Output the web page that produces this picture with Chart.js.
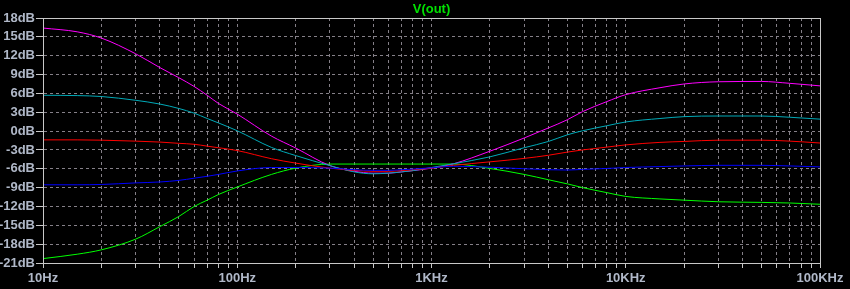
<!DOCTYPE html>
<html>
<head>
<meta charset="utf-8">
<title>V(out)</title>
<script src="https://cdn.jsdelivr.net/npm/chart.js@4.4.1/dist/chart.umd.min.js"></script>
<style>
  html, body { margin: 0; padding: 0; background: #000; }
  #plot { display: block; }
</style>
</head>
<body>
<canvas id="plot" width="850" height="289"></canvas>
<script>
// frequencies (Hz) the traces were read at
var freq = [10, 15, 20, 30, 40, 50, 60, 70, 80, 100, 150, 200, 300, 400, 500, 600, 700, 800,
            1000, 1300, 2000, 3000, 4000, 5000, 6000, 8000, 10000, 15000, 20000, 30000,
            50000, 70000, 100000];

// gain in dB, one array per trace
var magenta = [16.4, 15.8, 14.8, 12.3, 10.1, 8.5, 7.1, 5.7, 4.4, 2.7, -0.8, -2.7, -5.5, -6.4, -6.7, -6.7, -6.5, -6.3,
               -5.9, -5.2, -3.2, -1.1, 0.5, 1.8, 3.1, 4.7, 5.8, 6.9, 7.5, 7.85,
               7.9, 7.6, 7.2];
var cyan    = [5.7, 5.65, 5.5, 4.9, 4.3, 3.6, 2.85, 2.0, 1.3, 0.05, -2.6, -3.9, -5.5, -6.5, -6.8, -6.7, -6.5, -6.3,
               -5.8, -5.2, -4.1, -2.65, -1.65, -0.6, 0.05, 0.85, 1.45, 2.0, 2.3, 2.4,
               2.4, 2.2, 1.9];
var red     = [-1.4, -1.4, -1.45, -1.6, -1.75, -1.95, -2.1, -2.4, -2.65, -3.1, -4.4, -5.1, -5.9, -6.25, -6.4, -6.4, -6.3, -6.15,
               -5.9, -5.45, -4.9, -4.35, -3.85, -3.35, -3.0, -2.55, -2.2, -1.8, -1.65, -1.45,
               -1.45, -1.6, -1.9];
var blue    = [-8.55, -8.55, -8.5, -8.25, -8.1, -7.85, -7.5, -7.2, -6.9, -6.35, -5.8, -5.8, -5.9, -6.15, -6.25, -6.25, -6.15, -6.05,
               -5.85, -5.6, -5.75, -6.0, -6.15, -6.2, -6.1, -5.95, -5.8, -5.65, -5.55, -5.45,
               -5.45, -5.55, -5.7];
var green   = [-20.3, -19.6, -18.9, -17.2, -15.2, -13.6, -12.0, -11.0, -10.1, -8.9, -6.9, -5.9, -5.25, -5.25, -5.25, -5.25, -5.25, -5.25,
               -5.25, -5.25, -5.95, -6.9, -7.75, -8.4, -9.0, -9.8, -10.4, -10.8, -11.0, -11.25,
               -11.35, -11.45, -11.65];

var decadeLabels = ['10Hz', '100Hz', '1KHz', '10KHz', '100KHz'];
var decades = [10, 100, 1000, 10000, 100000];
var dbMin = -21, dbMax = 18, dbStep = 3;
var plotTitle = 'V(out)';

// tick positions 1..9 per decade on the log axis
var xTicks = [];
for (var d = 0; d < decades.length; d++) {
  for (var m = 1; m <= 9; m++) {
    if (d == decades.length - 1 && m > 1) break;
    xTicks.push(decades[d] * m);
  }
}

function pts(vals) {
  return freq.map(function(f, i) { return {x: f, y: vals[i]}; });
}

function trace(vals, colour) {
  return {
    data: pts(vals),
    borderColor: colour,
    borderWidth: 1,
    pointRadius: 0,
    fill: false,
    cubicInterpolationMode: 'monotone'
  };
}

var labelColour = '#b0b8c8';
var gridColour = '#858088';
var frameColour = '#c8c8c8';
var labelFont = {family: '"Liberation Sans", Arial, sans-serif', size: 13, weight: 'bold'};

var framePlugin = {
  id: 'frame',
  beforeDraw: function(chart) {
    var ctx = chart.ctx;
    ctx.save();
    ctx.fillStyle = '#000';
    ctx.fillRect(0, 0, chart.width, chart.height);
    ctx.restore();
  },
  afterDraw: function(chart) {
    var a = chart.chartArea, ctx = chart.ctx;
    ctx.save();
    ctx.strokeStyle = frameColour;
    ctx.lineWidth = 1;
    ctx.strokeRect(Math.round(a.left) + 0.5, Math.round(a.top) + 0.5,
                   Math.round(a.right - a.left), Math.round(a.bottom - a.top));
    ctx.fillStyle = '#00e000';
    ctx.font = 'bold 13px "Liberation Sans", Arial, sans-serif';
    ctx.textAlign = 'center';
    ctx.textBaseline = 'middle';
    ctx.fillText(plotTitle, (a.left + a.right) / 2, 9);
    ctx.restore();
  }
};

var ctx = document.getElementById('plot');
var chart = new Chart(ctx, {
  type: 'line',
  data: {
    datasets: [
      trace(blue, '#0000ff'),
      trace(red, '#ff0000'),
      trace(cyan, '#00aab8'),
      trace(magenta, '#ff00ff'),
      trace(green, '#00ff00')
    ]
  },
  options: {
    responsive: false,
    animation: false,
    devicePixelRatio: 1,
    layout: {padding: {top: 18, right: 30, left: 0, bottom: 0}},
    plugins: {
      legend: {display: false},
      tooltip: {enabled: false},
      title: {display: false}
    },
    scales: {
      x: {
        type: 'logarithmic',
        min: 10,
        max: 100000,
        afterBuildTicks: function(scale) {
          scale.ticks = xTicks.map(function(v) { return {value: v}; });
        },
        afterFit: function(scale) { scale.height = 26; },
        ticks: {
          autoSkip: false,
          maxRotation: 0,
          color: labelColour,
          font: labelFont,
          padding: 3,
          callback: function(value) {
            var i = decades.indexOf(value);
            return i >= 0 ? decadeLabels[i] : '';
          }
        },
        grid: {
          color: gridColour,
          lineWidth: 1,
          tickLength: 5,
          tickColor: frameColour,
          tickBorderDash: []
        },
        border: {display: true, color: frameColour, dash: [3, 3]}
      },
      y: {
        min: dbMin,
        max: dbMax,
        afterFit: function(scale) { scale.width = 43; },
        ticks: {
          stepSize: dbStep,
          color: labelColour,
          font: labelFont,
          padding: 1,
          callback: function(value) { return value + 'dB'; }
        },
        grid: {
          color: gridColour,
          lineWidth: 1,
          tickLength: 7,
          tickColor: frameColour,
          tickBorderDash: []
        },
        border: {display: true, color: frameColour, dash: [3, 3]}
      }
    }
  },
  plugins: [framePlugin]
});
</script>
</body>
</html>
